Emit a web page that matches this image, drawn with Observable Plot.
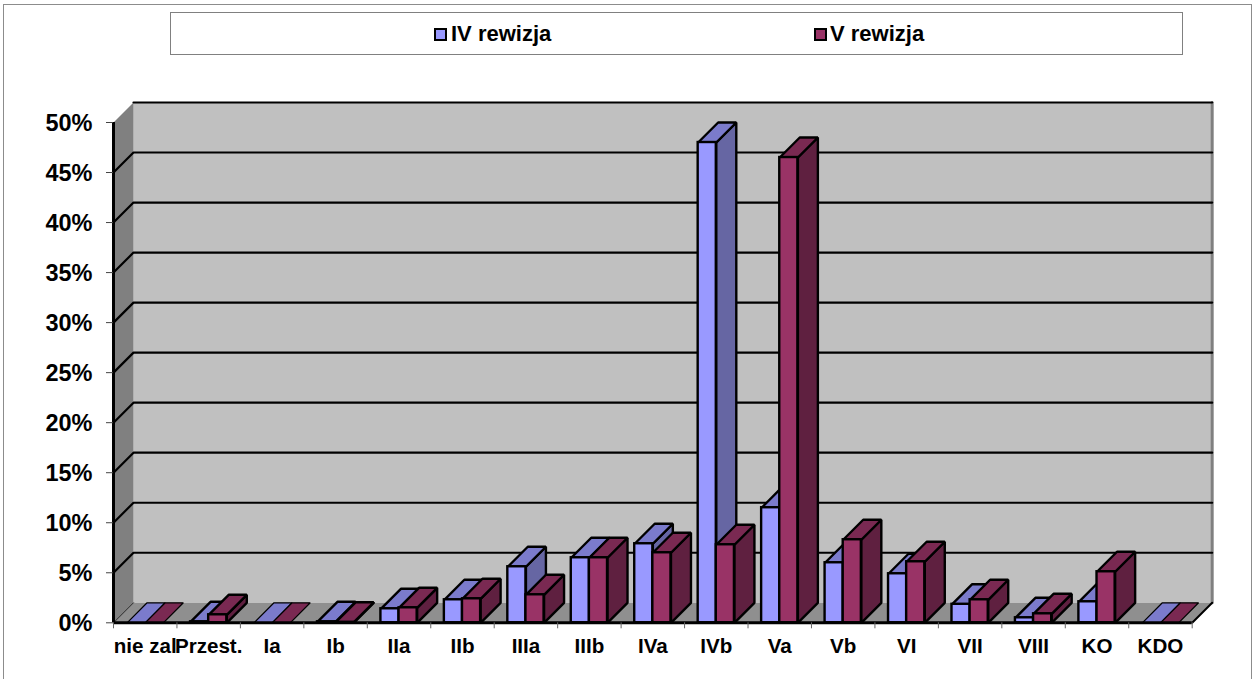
<!DOCTYPE html>
<html lang="pl">
<head>
<meta charset="utf-8">
<script src="https://cdn.jsdelivr.net/npm/d3@7"></script>
<script src="https://cdn.jsdelivr.net/npm/@observablehq/plot@0.6"></script>
<style>
  html, body { margin: 0; padding: 0; background: #fff; overflow: hidden; }
  #page { position: relative; width: 1258px; height: 679px; font-family: "Liberation Sans", Arial, sans-serif; }
  #frame { position: absolute; left: 3px; top: 4px; width: 1247px; height: 690px; border: 1.5px solid #8c8c8c; }
  #legend { position: absolute; left: 170px; top: 12px; width: 1011px; height: 41px; border: 1.2px solid #808080; background: #fff; }
  .item { position: absolute; top: 0; height: 41px; line-height: 41px; font-size: 22px; font-weight: bold; color: #000; white-space: nowrap; }
  .swatch { position: absolute; top: 15px; width: 9px; height: 9px; border: 2px solid #000; }
  #chart { position: absolute; left: 0; top: 60px; }
  #chart svg { display: block; }
</style>
</head>
<body>
<div id="page">
  <div id="frame"></div>
  <div id="legend"></div>
  <div id="chart"></div>
</div>
<script>
const categories = ["nie zal", "Przest.", "Ia", "Ib", "IIa", "IIb", "IIIa", "IIIb", "IVa", "IVb", "Va", "Vb", "VI", "VII", "VIII", "KO", "KDO"];
const rewizjaIV = [0, 0.1, 0, 0.1, 1.4, 2.3, 5.6, 6.5, 7.9, 48.0, 11.5, 6.0, 4.9, 1.85, 0.5, 2.1, 0];
const rewizjaV  = [0, 0.8, 0, 0.05, 1.5, 2.4, 2.8, 6.5, 7.0, 7.8, 46.5, 8.3, 6.1, 2.3, 0.9, 5.1, 0];
const yTicks = [0, 5, 10, 15, 20, 25, 30, 35, 40, 45, 50];
const seriesNames = ["IV rewizja", "V rewizja"];
const colorsFront = ["#9999ff", "#993366"];
const colorsTop = ["#7b7bcc", "#7a2952"];
const colorsSide = ["#6666a3", "#5f2040"];

// bar layout in category units, depth offset in data units
const barOffset = 0.2143, barWidth = 0.2857, depthX = 0.315, depthY = 2;

// legend
const legend = document.getElementById("legend");
[[263, 280], [643, 659]].forEach(([sw, tx], i) => {
  const s = document.createElement("div");
  s.className = "swatch"; s.style.left = sw + "px"; s.style.background = colorsFront[i];
  const t = document.createElement("div");
  t.className = "item"; t.style.left = tx + "px"; t.textContent = seriesNames[i];
  legend.append(s, t);
});

const poly = (id, pts) => pts.map(([x, y]) => ({id, x, y}));
const cats = categories.map((c, i) => ({c, i}));

function barMarks(values, s) {
  const rows = values.map((v, i) => {
    const x0 = i + barOffset + s * barWidth;
    return {v, i, x0, x1: x0 + barWidth};
  });
  const tops = rows.flatMap(r => poly(r.i, [[r.x0, r.v], [r.x1, r.v], [r.x1 + depthX, r.v + depthY], [r.x0 + depthX, r.v + depthY]]).map(p => ({...p, v: r.v})));
  const sides = rows.filter(r => r.v > 0).flatMap(r => poly(r.i, [[r.x1, 0], [r.x1 + depthX, depthY], [r.x1 + depthX, r.v + depthY], [r.x1, r.v]]));
  const common = {x: "x", y: "y", z: "id", curve: "linear-closed", strokeLinejoin: "miter"};
  return [
    Plot.line(sides, {...common, fill: colorsSide[s], stroke: "#000", strokeWidth: 2.4}),
    Plot.line(tops.filter(p => p.v > 0), {...common, fill: colorsTop[s], stroke: "#000", strokeWidth: 2.4}),
    Plot.line(tops.filter(p => p.v === 0), {...common, fill: colorsTop[s], stroke: "#000", strokeWidth: 1.2}),
    Plot.rect(rows.filter(r => r.v > 0), {x1: "x0", x2: "x1", y1: 0, y2: "v", fill: colorsFront[s], stroke: "#000", strokeWidth: 2.4})
  ];
}

const n = categories.length;
const wall = [[0, 0], [depthX, depthY], [depthX, 50 + depthY], [0, 50]];
const floor = [[0, 0], [n, 0], [n + depthX, depthY], [depthX, depthY]];
const back = [[depthX, depthY], [n + depthX, depthY], [n + depthX, 50 + depthY], [depthX, 50 + depthY]];
const gridTicks = yTicks.filter(t => t > 0);
const gridPts = gridTicks.flatMap(t => {
  const pts = t === 50 ? [[depthX, t + depthY], [n + depthX, t + depthY]]
                       : [[0, t], [depthX, t + depthY], [n + depthX, t + depthY]];
  return poly(t, pts);
});
const font = {fontFamily: "'Liberation Sans', Arial, sans-serif", fontWeight: "bold", fill: "#000"};

const chart = Plot.plot({
  width: 1258, height: 619,
  marginLeft: 113, marginRight: 66.3, marginTop: 62, marginBottom: 56.7,
  style: {background: "transparent", overflow: "visible"},
  x: {type: "linear", domain: [0, n]},
  y: {type: "linear", domain: [0, 50]},
  marks: [
    Plot.line(poly("back", back), {x: "x", y: "y", curve: "linear-closed", fill: "#c0c0c0"}),
    Plot.line(poly("wall", wall), {x: "x", y: "y", curve: "linear-closed", fill: "#808080"}),
    Plot.line(poly("floor", floor), {x: "x", y: "y", curve: "linear-closed", fill: "#8f8f8f"}),
    Plot.line(poly("edge", [[n + depthX, depthY], [n + depthX, 50 + depthY]]), {x: "x", y: "y", stroke: "#808080", strokeWidth: 3}),
    Plot.line(gridPts, {x: "x", y: "y", z: "id", stroke: "#000", strokeWidth: 2.2}),
    Plot.line(poly("d0", [[0, 0], [depthX, depthY]]), {x: "x", y: "y", stroke: "#222", strokeWidth: 1}),
    Plot.line(poly("d1", [[n, 0], [n + depthX, depthY]]), {x: "x", y: "y", stroke: "#000", strokeWidth: 2}),
    ...barMarks(rewizjaIV, 0),
    ...barMarks(rewizjaV, 1),
    Plot.ruleX([0], {y1: 0, y2: 50, stroke: "#000", strokeWidth: 3}),
    Plot.ruleY([0], {x1: 0, x2: n, stroke: "#000", strokeWidth: 3}),
    Plot.axisY({ticks: yTicks, tickFormat: () => "", tickSize: 7, stroke: "#444", label: null}),
    Plot.axisY({ticks: yTicks, tickFormat: d => d + "%", tickSize: 0, tickPadding: 21, dy: 1, fontSize: 23.5, label: null, ...font}),
    Plot.axisX({ticks: d3.range(0, n + 1), tickFormat: () => "", tickSize: 6, stroke: "#666", label: null}),
    Plot.text(cats, {x: d => d.i + 0.5, text: "c", frameAnchor: "bottom", dy: 30, fontSize: 20.6, ...font})
  ]
});
document.getElementById("chart").append(chart);
</script>
</body>
</html>
